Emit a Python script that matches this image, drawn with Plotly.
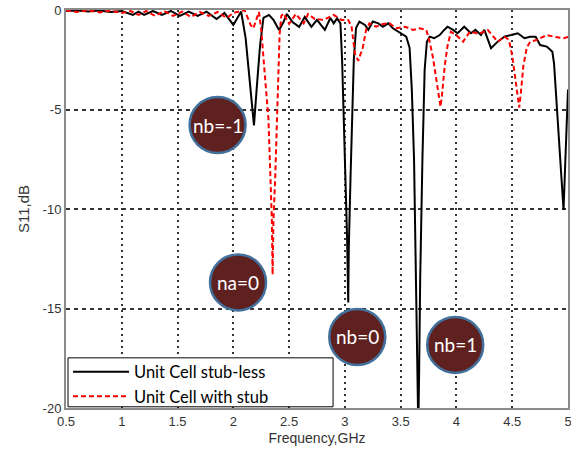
import plotly.graph_objects as go

# Black: Unit Cell stub-less (frequency GHz, S11 dB)
freq_stubless = [0.5, 0.6, 0.7, 0.8, 0.9, 1.0, 1.1, 1.15, 1.2, 1.28, 1.36, 1.44, 1.52, 1.6, 1.68, 1.76,
                 1.85, 1.92, 2.0, 2.07, 2.11, 2.155, 2.185, 2.21, 2.24, 2.27, 2.32, 2.36, 2.41, 2.45,
                 2.48, 2.53, 2.59, 2.64, 2.7, 2.75, 2.82, 2.87, 2.9, 2.93, 2.96, 2.975, 2.99, 3.005,
                 3.02, 3.03, 3.035, 3.05, 3.065, 3.08, 3.1, 3.13, 3.18, 3.21, 3.25, 3.3, 3.34, 3.39,
                 3.43, 3.48, 3.52, 3.55, 3.58, 3.6, 3.62, 3.635, 3.65, 3.658, 3.666, 3.675, 3.695,
                 3.715, 3.735, 3.76, 3.8, 3.85, 3.89, 3.92, 3.97, 4.01, 4.07, 4.13, 4.17, 4.22, 4.25,
                 4.31, 4.37, 4.43, 4.49, 4.55, 4.61, 4.66, 4.71, 4.75, 4.81, 4.86, 4.875, 4.89, 4.905,
                 4.93, 4.95, 4.96, 4.98, 5.0]
s11_stubless = [-0.05, -0.02, -0.08, -0.03, -0.1, -0.05, -0.25, -0.08, -0.25, -0.05, -0.25, -0.05, -0.3,
                -0.08, -0.3, -0.08, -0.45, -0.15, -0.75, -0.08, -1.4, -3.9, -5.8, -3.9, -1.75, -0.4,
                -0.25, -0.5, -1.0, -0.6, -0.2, -0.6, -0.85, -0.35, -0.85, -0.5, -1.0, -0.4, -0.67,
                -0.42, -0.67, -2.5, -5.5, -8.0, -11.5, -14.7, -12.0, -8.5, -5.5, -2.5, -0.9, -0.58,
                -0.75, -1.0, -0.58, -0.67, -0.84, -0.67, -0.92, -1.09, -1.26, -1.34, -1.9, -4.0, -7.5,
                -13.5, -18.0, -21.0, -18.0, -13.5, -7.5, -3.0, -1.6, -1.34, -1.42, -1.26, -1.0, -0.84,
                -1.0, -1.17, -0.84, -1.17, -1.0, -1.26, -1.0, -1.92, -1.59, -1.34, -1.26, -1.17, -1.42,
                -1.34, -1.34, -1.76, -1.84, -2.1, -2.7, -4.0, -5.7, -7.4, -9.05, -10.05, -7.0, -4.0]

# Red dashed: Unit Cell with stub
freq_stub = [0.5, 0.6, 0.7, 0.8, 0.9, 1.0, 1.08, 1.15, 1.22, 1.3, 1.38, 1.46, 1.54, 1.62, 1.7, 1.78,
             1.86, 1.94, 2.0, 2.1, 2.155, 2.18, 2.21, 2.23, 2.25, 2.27, 2.29, 2.315, 2.33, 2.345,
             2.352, 2.36, 2.375, 2.39, 2.405, 2.415, 2.43, 2.45, 2.5, 2.56, 2.63, 2.67, 2.73, 2.81,
             2.9, 2.97, 3.03, 3.06, 3.09, 3.12, 3.16, 3.19, 3.22, 3.28, 3.34, 3.4, 3.46, 3.54, 3.61,
             3.67, 3.73, 3.76, 3.79, 3.82, 3.845, 3.857, 3.87, 3.895, 3.92, 3.95, 3.995, 4.06, 4.12,
             4.2, 4.28, 4.33, 4.37, 4.43, 4.47, 4.5, 4.53, 4.55, 4.563, 4.575, 4.6, 4.63, 4.66, 4.72,
             4.81, 4.88, 4.96, 5.0]
s11_stub = [-0.02, -0.1, -0.02, -0.12, -0.03, -0.15, -0.05, -0.25, -0.05, -0.3, -0.05, -0.3, -0.08,
            -0.35, -0.1, -0.3, -0.1, -0.4, -0.15, 0.0, -0.75, -0.92, -0.42, -0.1, -1.0, -2.5, -4.0,
            -5.5, -8.0, -10.5, -13.3, -10.5, -8.5, -5.5, -3.0, -1.2, -0.3, -0.17, -0.7, -0.2, -0.67,
            -0.2, -0.45, -0.5, -0.25, -0.5, -0.5, -0.84, -2.2, -2.55, -1.9, -1.0, -0.67, -0.84, -0.7,
            -0.67, -0.92, -0.84, -1.0, -0.92, -1.0, -1.6, -2.4, -3.6, -4.6, -4.86, -4.3, -2.8, -1.8,
            -1.1, -1.25, -1.59, -1.09, -1.2, -1.0, -1.3, -1.59, -1.34, -1.5, -2.3, -3.6, -4.6, -4.9,
            -4.3, -2.8, -1.9, -1.6, -1.5, -1.26, -1.35, -1.42, -1.35]

series_names = ["Unit Cell stub-less", "Unit Cell with stub"]

x_tickvals = [0.5, 1, 1.5, 2, 2.5, 3, 3.5, 4, 4.5, 5]
x_ticktext = ["0.5", "1", "1.5", "2", "2.5", "3", "3.5", "4", "4.5", "5"]
y_tickvals = [0, -5, -10, -15, -20]
y_ticktext = ["0", "-5", "-10", "-15", "-20"]

labels = ["nb=-1", "na=0", "nb=0", "nb=1"]
label_x = [1.859, 2.042, 3.111, 3.989]
label_y = [-5.78, -13.69, -16.43, -16.83]

fig = go.Figure()
fig.add_trace(go.Scatter(x=freq_stubless, y=s11_stubless, mode="lines", name=series_names[0],
                         line=dict(color="black", width=2)))
fig.add_trace(go.Scatter(x=freq_stub, y=s11_stub, mode="lines", name=series_names[1],
                         line=dict(color="#FF0000", width=2, dash="5px,3px")))

shapes = []
annotations = []
# legend frame (white box with black border), drawn in plot-area coordinates
shapes.append(dict(type="rect", xref="paper", yref="paper", x0=0.004, x1=0.532, y0=0.003, y1=0.126,
                   fillcolor="white", line=dict(color="black", width=1), layer="above"))
for lx, ly, lt in zip(label_x, label_y, labels):
    shapes.append(dict(type="circle", xref="x", yref="y", xsizemode="pixel", ysizemode="pixel",
                       xanchor=lx, yanchor=ly, x0=-28, x1=28, y0=-28, y1=28,
                       fillcolor="#5F2120", line=dict(color="#41719C", width=2.5), layer="above"))
    annotations.append(dict(x=lx, y=ly, xref="x", yref="y", text=lt, showarrow=False,
                            font=dict(family="Lato", size=19, color="white")))

fig.update_layout(
    width=571, height=454,
    margin=dict(l=66, r=3, t=10, b=46, autoexpand=False),
    paper_bgcolor="white", plot_bgcolor="white",
    shapes=shapes, annotations=annotations,
    showlegend=True,
    legend=dict(x=0.004, y=-0.014, xanchor="left", yanchor="bottom",
                bgcolor="rgba(0,0,0,0)", borderwidth=0,
                font=dict(family="Lato", size=16.5, color="black"),
                tracegroupgap=0, itemwidth=56),
    font=dict(family="Liberation Sans, Arial", size=13, color="#333333"),
)
fig.update_xaxes(range=[0.5, 5], tickvals=x_tickvals, ticktext=x_ticktext, automargin=False,
                 ticklabeloverflow="allow",
                 showgrid=True, gridcolor="#333333", gridwidth=1.5, griddash="2px,4px",
                 showline=True, linecolor="#8c8c8c", linewidth=2, mirror=True,
                 zeroline=False, ticks="",
                 title=dict(text="Frequency,GHz", font=dict(size=14, color="#333333"), standoff=6))
fig.update_yaxes(range=[-20, 0], tickvals=y_tickvals, ticktext=y_ticktext, automargin=False,
                 ticklabeloverflow="allow",
                 showgrid=True, gridcolor="#333333", gridwidth=1.5, griddash="4px,4px",
                 showline=True, linecolor="#8c8c8c", linewidth=2, mirror=True,
                 zeroline=False, ticks="",
                 title=dict(text="S11,dB", font=dict(size=15, color="#333333"), standoff=9))

fig.write_html("out.html", config={"displayModeBar": False},
               post_script="document.body.style.margin='0px';")
